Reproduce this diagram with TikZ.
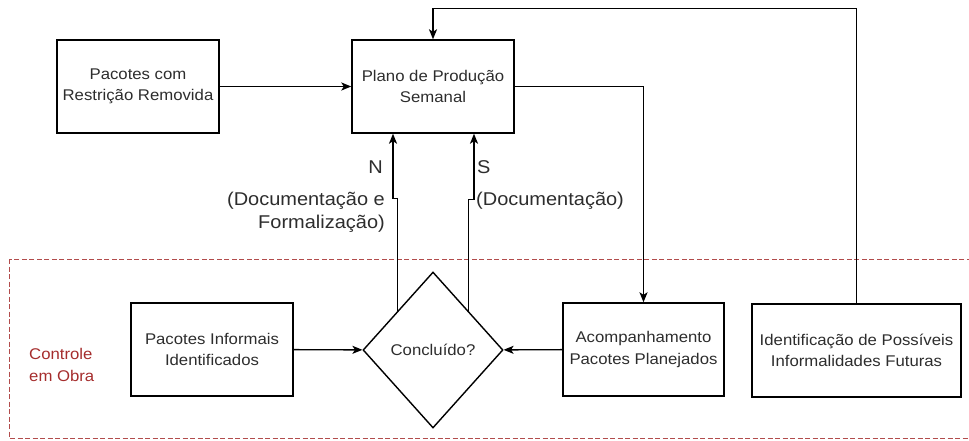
\documentclass[tikz,border=0pt]{standalone}
\usepackage{fontspec}
\setmainfont{Liberation Sans}[FakeStretch=1.08]
\usetikzlibrary{shapes.geometric,arrows.meta}
\definecolor{obrared}{RGB}{165,45,45}
\definecolor{txtgray}{RGB}{45,45,45}
\begin{document}
\begin{tikzpicture}[x=1pt,y=-1pt,
  box/.style={draw,line width=1.4pt,minimum width=162pt,minimum height=93pt,inner sep=2pt,
    align=center,text=txtgray,font=\fontsize{15.5}{21.5}\selectfont},
  decision/.style={diamond,draw,line width=1.4pt,minimum width=140pt,minimum height=156pt,
    inner sep=0pt,text=txtgray,font=\fontsize{15.5}{21.5}\selectfont},
  flow/.style={-{Stealth[length=10pt,width=8pt,inset=2.5pt]},line width=1.4pt},
  lbl/.style={inner sep=0pt,text=txtgray,font=\fontsize{18.5}{23}\selectfont}]
\useasboundingbox (0,0) rectangle (969,441);

%control zone
\draw[obrared!85,line width=0.8pt,dash pattern=on 5pt off 2.5pt] (9,259) rectangle (990,438);
\node[anchor=west,align=left,inner sep=0pt,text=obrared,font=\fontsize{15.5}{21.5}\selectfont]
  (zone) at (29,365) {Controle\\em Obra};

%planning
\node[box] (A) at (138,86.5) {Pacotes com\\Restrição Removida};
\node[box] (P) at (433,86.5) {Plano de Produção\\Semanal};

%field
\node[box] (I) at (212,349.5) {Pacotes Informais\\Identificados};
\node[decision] (D) at (433,350) {Concluído?};
\node[box,minimum width=161pt] (C) at (643.5,349.5) {Acompanhamento\\Pacotes Planejados};
\node[box,minimum width=209pt] (F) at (856.5,350.5) {Identificação de Possíveis\\Informalidades Futuras};

\draw[flow] (A) -- (P);
\draw[flow] (P.east) -| (C.north);
\draw[flow] (F.north) |- ([yshift=31pt]P.north) -- (P.north);
\draw[flow] (I) -- (D);
\draw[flow] (C) -- (D);

%answers
\draw[flow] (D.north west) -- ++(0,-112) -| ([xshift=-40pt]P.south);
\draw[flow] (D.north east) -- ++(0,-111) -| ([xshift=41pt]P.south);
\node[lbl,anchor=base east] (no) at (383,173) {N};
\node[lbl,anchor=base east,align=right] (nodoc) at (385,228) {(Documentação e\\Formalização)};
\node[lbl,anchor=base west] (yes) at (477,173) {S};
\node[lbl,anchor=base west] (yesdoc) at (476,205) {(Documentação)};
\end{tikzpicture}
\end{document}
